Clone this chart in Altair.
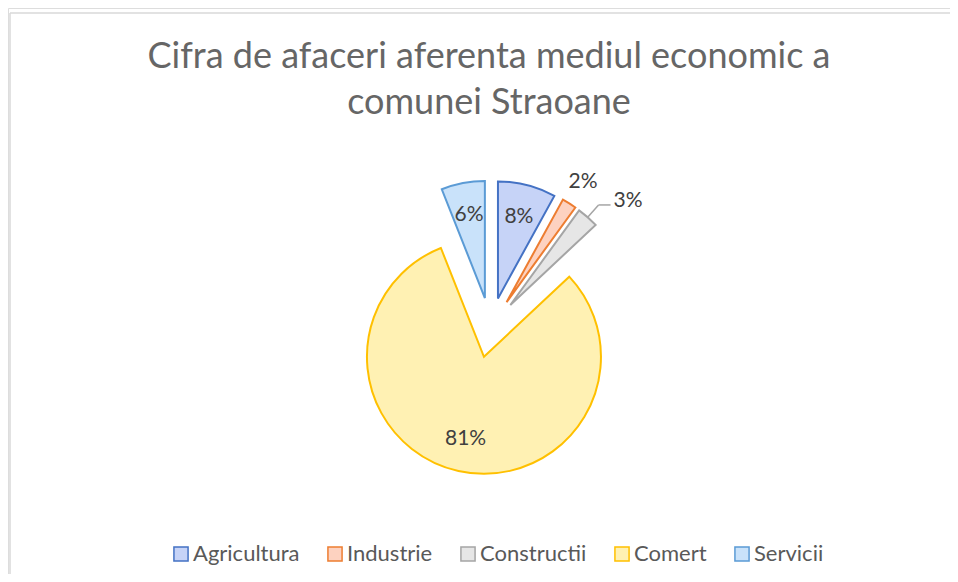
import altair as alt
import pandas as pd

# ---- data ----
categories = ["Agricultura", "Industrie", "Constructii", "Comert", "Servicii"]
shares = [8, 2, 3, 81, 6]
label_texts = ["8%", "2%", "3%", "81%", "6%"]
title_lines = ["Cifra de afaceri aferenta mediul economic a", "comunei Straoane"]

fill_colors = ["#c6d3f7", "#fdd2c0", "#e6e6e6", "#fff1b3", "#c9e2fa"]
stroke_colors = ["#4472c4", "#ed7d31", "#a5a5a5", "#ffc000", "#5b9bd5"]

df = pd.DataFrame({
    "category": categories,
    "share": shares,
    "label": label_texts,
    "order": list(range(len(categories))),
})

# ---- layout constants (pixels inside the 942x566 drawing area) ----
W, H = 942, 566
CX, CY = 482.5, 319.5
R = 117
D = 30
FONT = "Lato"

base = (
    alt.Chart(df)
    .transform_window(cum="sum(share)", prev="lag(share)", sort=[alt.SortField("order")])
    .transform_joinaggregate(total="sum(share)")
    .transform_calculate(
        t0="2*PI*(datum.cum - datum.share)/datum.total",
        t1="2*PI*datum.cum/datum.total",
    )
    .transform_calculate(mid="(datum.t0 + datum.t1)/2")
    .transform_calculate(
        cx=f"{CX} + {D}*sin(datum.mid)",
        cy=f"{CY} - {D}*cos(datum.mid)",
        leader="datum.share < 5 && datum.prev != null && datum.prev < 5",
    )
    .transform_calculate(
        lr=f"datum.share >= 5 ? {0.72 * R} : (datum.leader ? {1.14 * R} : {1.22 * R})",
    )
    .transform_calculate(
        lx="datum.cx + datum.lr*sin(datum.mid)",
        ly="datum.cy - datum.lr*cos(datum.mid)",
        ex=f"datum.cx + {R}*sin(datum.mid)",
        ey=f"datum.cy - {R}*cos(datum.mid)",
    )
)

legend = alt.Legend(
    title=None,
    orient="none",
    legendX=162,
    legendY=535,
    direction="horizontal",
    symbolType="square",
    symbolSize=200,
    symbolStrokeWidth=1.5,
    labelFont=FONT,
    labelFontSize=22,
    labelColor="#595959",
    labelOffset=1,
    columnPadding=24,
)

arcs = base.mark_arc(radius=R, strokeWidth=2).encode(
    x=alt.X("cx:Q", scale=None, axis=None),
    y=alt.Y("cy:Q", scale=None, axis=None),
    theta=alt.Theta("t0:Q", scale=None),
    theta2="t1:Q",
    fill=alt.Fill("category:N", scale=alt.Scale(domain=categories, range=fill_colors), legend=legend),
    stroke=alt.Stroke("category:N", scale=alt.Scale(domain=categories, range=stroke_colors), legend=legend),
    order=alt.Order("order:Q"),
)

text_center = base.transform_filter("!datum.leader").mark_text(
    font=FONT, fontSize=21, color="#404040", align="center", baseline="middle"
).encode(
    x=alt.X("lx:Q", scale=None, axis=None),
    y=alt.Y("ly:Q", scale=None, axis=None),
    text="label:N",
)

text_leader = base.transform_filter("datum.leader").mark_text(
    font=FONT, fontSize=21, color="#404040", align="left", baseline="middle", dx=15, dy=-4
).encode(
    x=alt.X("lx:Q", scale=None, axis=None),
    y=alt.Y("ly:Q", scale=None, axis=None),
    text="label:N",
)

leader1 = base.transform_filter("datum.leader").mark_rule(color="#a5a5a5", strokeWidth=1.5).encode(
    x=alt.X("ex:Q", scale=None, axis=None),
    y=alt.Y("ey:Q", scale=None, axis=None),
    x2="lx:Q",
    y2="ly:Q",
)
leader2 = base.transform_filter("datum.leader").transform_calculate(
    lx2="datum.lx + 12"
).mark_rule(color="#a5a5a5", strokeWidth=1.5).encode(
    x=alt.X("lx:Q", scale=None, axis=None),
    y=alt.Y("ly:Q", scale=None, axis=None),
    x2="lx2:Q",
)

one_row = pd.DataFrame({"k": [0]})
title = alt.Chart(one_row).mark_text(
    font=FONT, fontSize=36, color="#666666", align="center", baseline="alphabetic", lineHeight=46
).encode(
    x=alt.value(481), y=alt.value(60), text=alt.value(title_lines)
)

border_top = alt.Chart(one_row).mark_rule(color="#d9d9d9", strokeWidth=1.5).encode(
    x=alt.value(2), x2=alt.value(W), y=alt.value(5)
)
border_left = alt.Chart(one_row).mark_rule(color="#d9d9d9", strokeWidth=1.5).encode(
    x=alt.value(2), y=alt.value(5), y2=alt.value(H)
)

chart = (
    alt.layer(border_top, border_left, title, arcs, leader1, leader2, text_center, text_leader)
    .properties(
        width=W,
        height=H,
        autosize=alt.AutoSizeParams(type="none"),
        padding=0,
    )
    .configure_view(stroke=None)
    .configure(background="white")
)

chart.save("out.html", embed_options={"renderer": "svg", "actions": False})
